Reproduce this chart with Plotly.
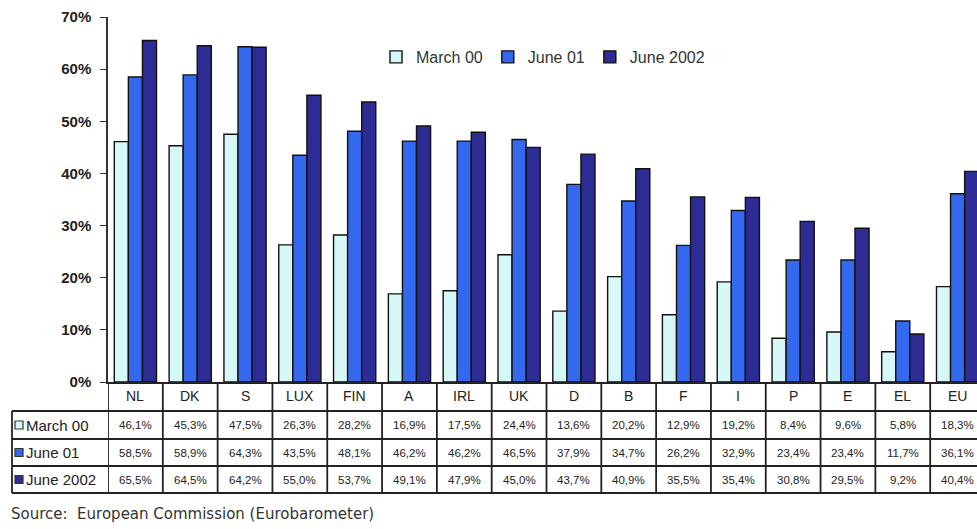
import plotly.graph_objects as go

categories = ["NL", "DK", "S", "LUX", "FIN", "A", "IRL", "UK", "D", "B", "F", "I", "P", "E", "EL", "EU"]
series_names = ["March 00", "June 01", "June 2002"]
march00 = [46.1, 45.3, 47.5, 26.3, 28.2, 16.9, 17.5, 24.4, 13.6, 20.2, 12.9, 19.2, 8.4, 9.6, 5.8, 18.3]
june01 = [58.5, 58.9, 64.3, 43.5, 48.1, 46.2, 46.2, 46.5, 37.9, 34.7, 26.2, 32.9, 23.4, 23.4, 11.7, 36.1]
june2002 = [65.5, 64.5, 64.2, 55.0, 53.7, 49.1, 47.9, 45.0, 43.7, 40.9, 35.5, 35.4, 30.8, 29.5, 9.2, 40.4]
y_ticks = [0, 10, 20, 30, 40, 50, 60, 70]
source_text = "Source:  European Commission (Eurobarometer)"

series_values = [march00, june01, june2002]
colors = ["#d6f8f6", "#3468ee", "#2c2c94"]

W, H = 977, 529
L, R, T, B = 108, 0, 17, 147
plot_w = W - L - R
plot_h = H - T - B
x_bottom_px = T + plot_h  # 382


def py(p):
    return (x_bottom_px - p) / plot_h


def pxp(p):
    return (p - L) / plot_w


fig = go.Figure()
for name, vals, col in zip(series_names, series_values, colors):
    fig.add_trace(go.Bar(
        x=categories, y=vals, name=name,
        marker=dict(color=col, line=dict(color="#111111", width=1.4)),
    ))

n = len(categories)
x_end = n - 0.5 - 8 / 54.8

line_col = "#222222"
lw = 1.8
shapes = []
row_tops = [411, 439, 466, 493]
for rp in row_tops:
    shapes.append(dict(type="line", xref="paper", yref="paper",
                       x0=pxp(12), x1=1.02, y0=py(rp), y1=py(rp),
                       line=dict(color=line_col, width=lw)))
shapes.append(dict(type="line", xref="paper", yref="paper",
                   x0=pxp(12), x1=pxp(12), y0=py(411), y1=py(493),
                   line=dict(color=line_col, width=lw)))
for i in range(n + 1):
    shapes.append(dict(type="line", xref="x", yref="paper",
                       x0=i - 0.5, x1=i - 0.5, y0=py(382), y1=py(493),
                       line=dict(color=line_col, width=lw)))

annotations = []
font_tab = dict(family="Arial", size=11.5, color="#222222")
row_centers = [425, 452.5, 479.5]
for i, c in enumerate(categories):
    annotations.append(dict(x=c, y=py(396), xref="x", yref="paper", text=c,
                            showarrow=False, font=dict(family="Arial", size=14, color="#222222"),
                            xanchor="center", yanchor="middle"))
    for r, vals in enumerate(series_values):
        txt = f"{vals[i]:.1f}%".replace(".", ",")
        annotations.append(dict(x=c, y=py(row_centers[r]), xref="x", yref="paper", text=txt,
                                showarrow=False, font=font_tab,
                                xanchor="center", yanchor="middle"))
for r, (name, col) in enumerate(zip(series_names, colors)):
    yc = row_centers[r]
    shapes.append(dict(type="rect", xref="paper", yref="paper",
                       x0=pxp(15), x1=pxp(23), y0=py(yc + 4), y1=py(yc - 4),
                       fillcolor=col, line=dict(color="#333333", width=1.2)))
    annotations.append(dict(x=pxp(24), y=py(yc), xref="paper", yref="paper", text=name,
                            showarrow=False, font=dict(family="Arial", size=15, color="#222222"),
                            xanchor="left", yanchor="middle"))

annotations.append(dict(x=pxp(9), y=py(514), xref="paper", yref="paper", text=source_text,
                        showarrow=False, font=dict(family="DejaVu Sans", size=15, color="#333333"),
                        xanchor="left", yanchor="middle"))

fig.update_layout(
    width=W, height=H,
    margin=dict(l=L, r=R, t=T, b=B),
    paper_bgcolor="white", plot_bgcolor="white",
    barmode="group", bargap=0.23, bargroupgap=0.0,
    showlegend=True,
    legend=dict(orientation="h", x=pxp(376), y=py(57), xanchor="left", yanchor="middle",
                font=dict(family="Arial", size=16, color="#333333"),
                bgcolor="rgba(0,0,0,0)", itemwidth=30, traceorder="normal"),
    xaxis=dict(range=[-0.5, x_end], showticklabels=False, showline=True,
               linecolor=line_col, linewidth=lw, ticks="", showgrid=False, zeroline=False,
               fixedrange=True),
    yaxis=dict(range=[0, 70], tickvals=y_ticks, ticktext=[f"{v}%" for v in y_ticks],
               showline=True, linecolor="#333333", linewidth=1.5, ticks="outside",
               ticklen=6, tickcolor="#333333", showgrid=False, zeroline=False,
               tickfont=dict(family="Arial", size=15, color="#222222", weight="bold"),
               ticklabelstandoff=6),
    shapes=shapes,
    annotations=annotations,
)

fig.write_html("out.html")
